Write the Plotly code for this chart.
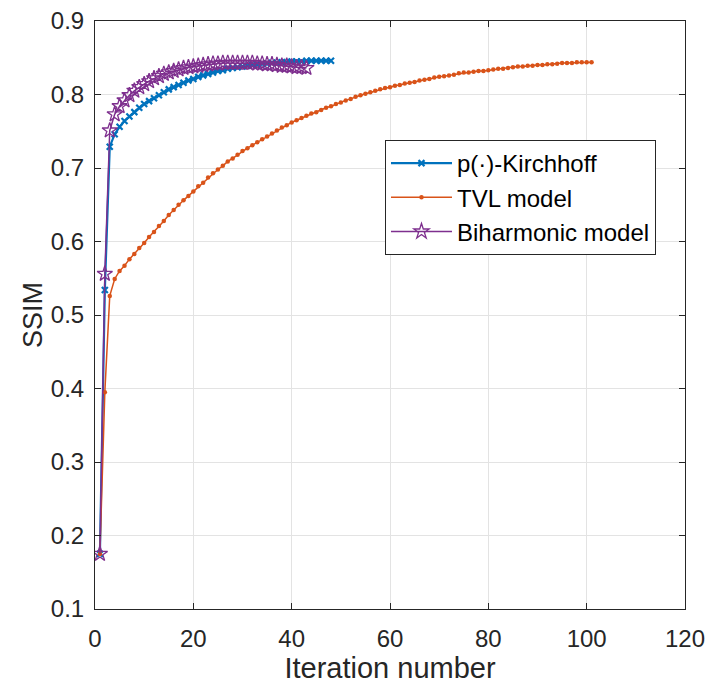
import plotly.graph_objects as go

kirchhoff_ssim = [0.175, 0.534, 0.729, 0.746, 0.756, 0.764, 0.770, 0.776, 0.782, 0.787,
                  0.791, 0.795, 0.799, 0.803, 0.807, 0.810, 0.813, 0.816, 0.819, 0.821,
                  0.824, 0.826, 0.828, 0.830, 0.832, 0.833, 0.835, 0.836, 0.837, 0.838,
                  0.839, 0.840, 0.841, 0.842, 0.842, 0.843, 0.843, 0.844, 0.844, 0.845,
                  0.845, 0.845, 0.846, 0.846, 0.846, 0.846, 0.846, 0.846]

tvl_ssim = [0.175, 0.395, 0.526, 0.549, 0.560, 0.567, 0.576, 0.583, 0.591, 0.598,
            0.606, 0.613, 0.621, 0.628, 0.636, 0.643, 0.650, 0.656, 0.662, 0.668,
            0.675, 0.680, 0.687, 0.693, 0.698, 0.703, 0.709, 0.713, 0.718, 0.723,
            0.727, 0.731, 0.735, 0.739, 0.743, 0.747, 0.751, 0.755, 0.758, 0.762,
            0.765, 0.768, 0.771, 0.774, 0.776, 0.779, 0.782, 0.784, 0.787, 0.789,
            0.792, 0.794, 0.797, 0.799, 0.801, 0.803, 0.805, 0.807, 0.809, 0.810,
            0.812, 0.813, 0.815, 0.816, 0.817, 0.819, 0.820, 0.821, 0.823, 0.824,
            0.825, 0.826, 0.827, 0.829, 0.830, 0.830, 0.831, 0.832, 0.832, 0.833,
            0.834, 0.835, 0.835, 0.836, 0.837, 0.838, 0.838, 0.839, 0.839, 0.840,
            0.840, 0.841, 0.841, 0.842, 0.843, 0.843, 0.843, 0.844, 0.844, 0.844,
            0.844]

biharmonic_ssim = [0.175, 0.556, 0.751, 0.773, 0.784, 0.792, 0.799, 0.805, 0.810, 0.814,
                   0.818, 0.822, 0.825, 0.828, 0.830, 0.832, 0.834, 0.836, 0.837, 0.838,
                   0.839, 0.840, 0.841, 0.842, 0.842, 0.843, 0.843, 0.843, 0.843, 0.843,
                   0.843, 0.843, 0.842, 0.842, 0.841, 0.841, 0.840, 0.839, 0.839, 0.838,
                   0.837, 0.837, 0.836]

series_names = ["p(·)-Kirchhoff", "TVL model", "Biharmonic model"]
x_ticks = [0, 20, 40, 60, 80, 100, 120]
y_ticks = [0.1, 0.2, 0.3, 0.4, 0.5, 0.6, 0.7, 0.8, 0.9]

FONT = "Liberation Sans, Arial, sans-serif"
AX = "#262626"

fig = go.Figure()
fig.add_trace(go.Scatter(
    x=list(range(1, len(kirchhoff_ssim) + 1)), y=kirchhoff_ssim, name=series_names[0],
    mode="lines+markers", line=dict(color="#0072BD", width=2.2),
    marker=dict(symbol="x-thin-open", size=6, line=dict(color="#0072BD", width=2.2)),
))
fig.add_trace(go.Scatter(
    x=list(range(1, len(tvl_ssim) + 1)), y=tvl_ssim, name=series_names[1],
    mode="lines+markers", line=dict(color="#D95319", width=1.5),
    marker=dict(symbol="circle", size=4.5, color="#D95319"),
))
fig.add_trace(go.Scatter(
    x=list(range(1, len(biharmonic_ssim) + 1)), y=biharmonic_ssim, name=series_names[2],
    mode="lines+markers", line=dict(color="#7E2F8E", width=1.5),
    marker=dict(symbol="star-open", size=11.5, line=dict(color="#7E2F8E", width=1.3)),
))

axis_common = dict(
    showline=True, linecolor=AX, linewidth=1, mirror="ticks",
    ticks="inside", ticklen=6, tickcolor=AX, tickwidth=1,
    showgrid=True, gridcolor="#e3e3e3", gridwidth=1, zeroline=False,
    tickfont=dict(family=FONT, size=24, color=AX),
    automargin=False, ticklabeloverflow="allow",
)

# page has an 8px body margin, so the figure is sized to fit the 714x692 window
fig.update_layout(
    width=706, height=684,
    margin=dict(l=87, r=29, t=13, b=83),
    paper_bgcolor="white", plot_bgcolor="white",
    font=dict(family=FONT, color=AX),
    xaxis=dict(range=[0, 120], tickvals=x_ticks, ticklabelstandoff=8,
               title=dict(text="Iteration number", font=dict(family=FONT, size=29, color=AX), standoff=2),
               **axis_common),
    yaxis=dict(range=[0.1, 0.9], tickvals=y_ticks, tickformat=".1f", ticklabelstandoff=5,
               title=dict(text="SSIM", font=dict(family=FONT, size=27, color=AX), standoff=0),
               **axis_common),
    legend=dict(x=0.4915, y=0.7976, xanchor="left", yanchor="top",
                bgcolor="white", bordercolor=AX, borderwidth=1,
                font=dict(family=FONT, size=24, color="black"),
                tracegroupgap=0, itemwidth=61),
    showlegend=True,
)

fig.write_html("out.html")
